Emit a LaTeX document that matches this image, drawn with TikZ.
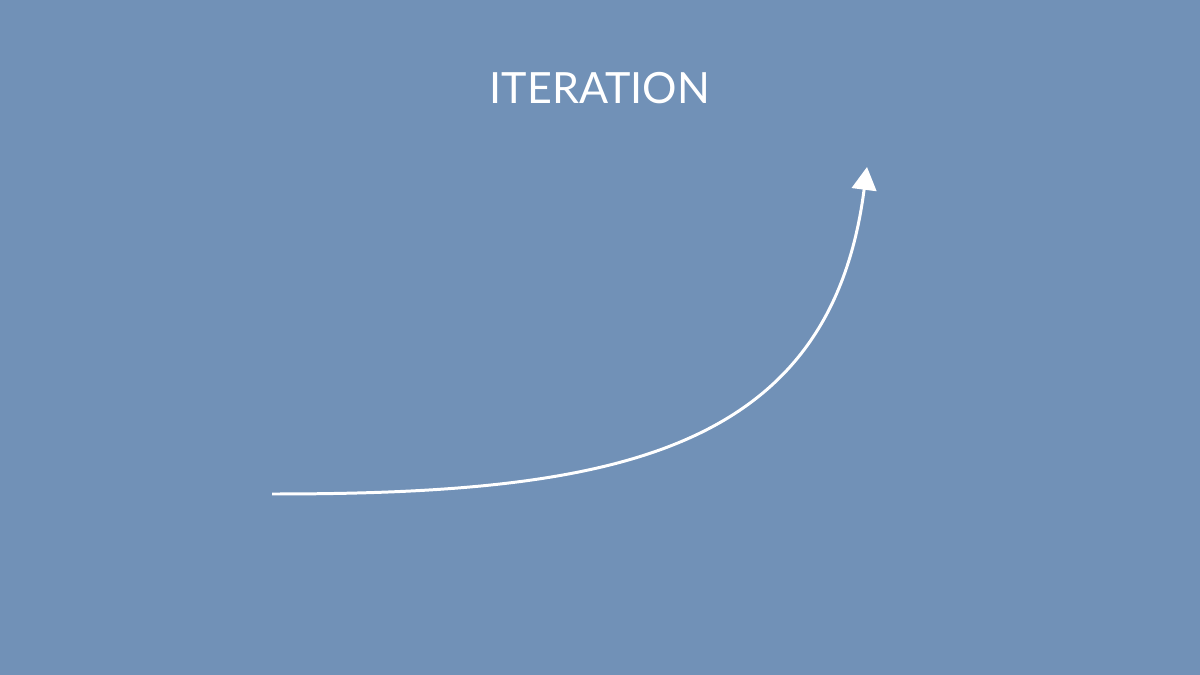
\documentclass[tikz,border=0pt]{standalone}
\usepackage{fontspec}
\setmainfont{Lato}
\usetikzlibrary{arrows.meta}
\definecolor{bg}{RGB}{113,145,183}
\tikzset{
  title/.style={text=white, font=\fontsize{24.5}{28}\selectfont, inner sep=0pt},
  growth/.style={draw=white, line width=1.7pt, -{Triangle[length=13pt,width=14pt]}}
}
\begin{document}
\begin{tikzpicture}[x=0.02cm,y=-0.02cm]
\fill[bg] (0,0) rectangle (1200,675);
\useasboundingbox (0,0) rectangle (1200,675);
\node[title, anchor=base] (t) at (600,104) {ITERATION};
\coordinate (s) at (272,494);
\coordinate (e) at (867,167);
\draw[growth] (s) .. controls (610,494) and (830,455) .. (e);
\end{tikzpicture}
\end{document}
